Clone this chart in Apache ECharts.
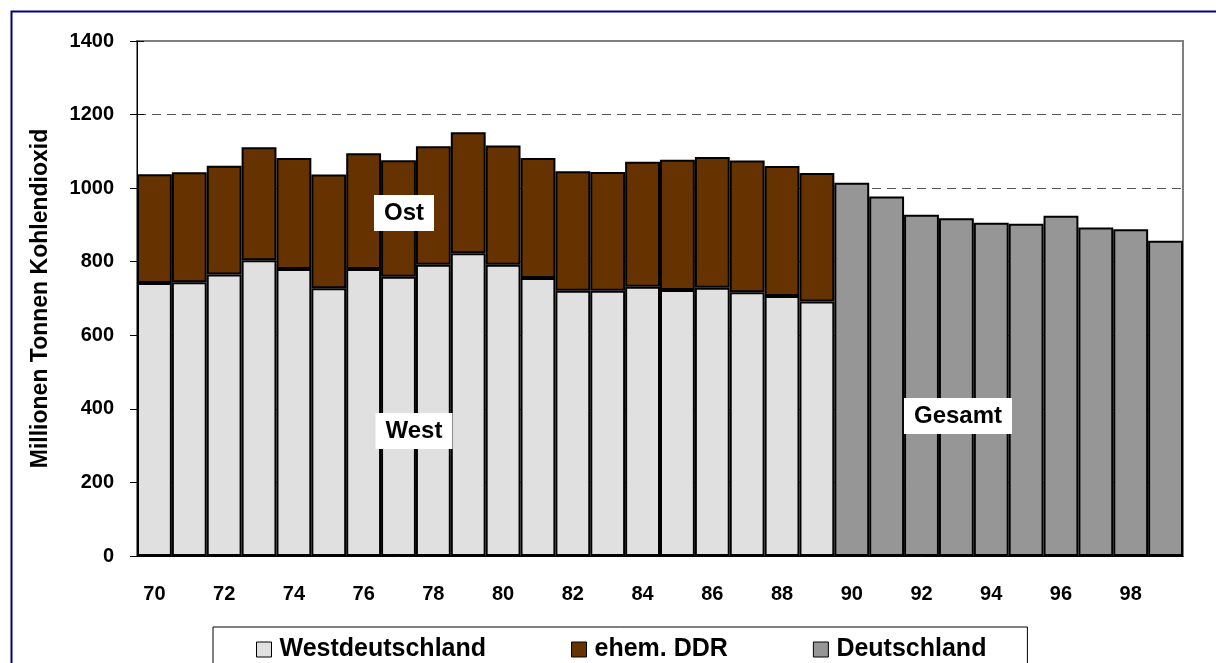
<!DOCTYPE html>
<html>
<head>
<meta charset="utf-8">
<script src="https://cdn.jsdelivr.net/npm/echarts@6/dist/echarts.min.js"></script>
<style>
  html, body { margin: 0; padding: 0; background: #fff; }
  #chart { width: 1216px; height: 663px; }
</style>
</head>
<body>
<div id="chart"></div>
<script>
// Jahre 1970 - 1999
const years = ['70', '71', '72', '73', '74', '75', '76', '77', '78', '79',
  '80', '81', '82', '83', '84', '85', '86', '87', '88', '89',
  '90', '91', '92', '93', '94', '95', '96', '97', '98', '99'];

// Westdeutschland 1970 - 1989
const westValues = [742, 744, 765, 804, 780, 728, 780, 759, 792, 823,
  792, 756, 721, 721, 732, 723, 729, 717, 707, 692];
// ehem. DDR 1970 - 1989
const ostValues = [296, 299, 296, 307, 302, 309, 315, 317, 322, 329,
  324, 326, 325, 323, 340, 354, 356, 358, 353, 349];
// Deutschland 1990 - 1999
const gesamtValues = [1015, 977, 928, 918, 906, 903, 925, 893, 888, 857];

const yTicks = [0, 200, 400, 600, 800, 1000, 1200, 1400];

const font = 'Arial, "Liberation Sans", sans-serif';

// Reihen auf die volle Jahresachse auffüllen
const pad = (n) => new Array(n).fill(null);
const westData = westValues.concat(pad(years.length - westValues.length));
const ostData = ostValues.concat(pad(years.length - ostValues.length));
const gesamtData = pad(years.length - gesamtValues.length).concat(gesamtValues);

const barBorder = {
  borderColor: '#000',
  borderWidth: 2,
};

// weißes Kästchen mit fetter Beschriftung
const boxLabel = (text, x, y) => ({
  type: 'text',
  x,
  y,
  z: 100,
  style: {
    text,
    font: 'bold 24px ' + font,
    fill: '#000',
    align: 'center',
    verticalAlign: 'middle',
    backgroundColor: '#fff',
    padding: [6, 10],
  },
});

const chart = echarts.init(document.getElementById('chart'));

chart.setOption({
  animation: false,
  textStyle: {
    fontFamily: font,
  },
  grid: {
    left: 137,
    right: 33,
    top: 41,
    bottom: 107,
    show: true,
    borderColor: '#808080',
    borderWidth: 2,
  },
  legend: {
    left: 213,
    top: 627,
    padding: [10, 41, 12, 43],
    itemGap: 85,
    itemWidth: 15,
    itemHeight: 15,
    icon: 'rect',
    borderColor: '#000',
    borderWidth: 1,
    backgroundColor: '#fff',
    itemStyle: {
      borderColor: '#000',
      borderWidth: 1,
    },
    textStyle: {
      fontFamily: font,
      fontSize: 25,
      fontWeight: 'bold',
      color: '#000',
      padding: [0, 0, 0, 3],
    },
    data: ['Westdeutschland', 'ehem. DDR', 'Deutschland'],
  },
  xAxis: {
    type: 'category',
    data: years,
    boundaryGap: true,
    axisLine: {
      lineStyle: { color: '#000', width: 1 },
    },
    axisTick: {
      interval: 1,
      length: 8,
      lineStyle: { color: '#000' },
    },
    axisLabel: {
      interval: 1,
      margin: 28,
      fontSize: 20,
      fontWeight: 'bold',
      color: '#000',
    },
  },
  yAxis: [{
    type: 'value',
    min: yTicks[0],
    max: yTicks[yTicks.length - 1],
    interval: 200,
    name: 'Millionen Tonnen Kohlendioxid',
    nameLocation: 'middle',
    nameGap: 85,
    nameTextStyle: {
      fontSize: 23,
      fontWeight: 'bold',
      color: '#000',
    },
    axisLine: {
      show: true,
      lineStyle: { color: '#000', width: 1 },
    },
    axisTick: {
      show: true,
      length: 7,
      lineStyle: { color: '#000' },
    },
    axisLabel: {
      margin: 23,
      fontSize: 20,
      fontWeight: 'bold',
      color: '#000',
      formatter: (v) => String(v),
    },
    splitLine: {
      showMinLine: false,
      showMaxLine: false,
      lineStyle: { color: '#555', type: [9, 6], width: 1 },
    },
  }, {
    // nur für die nach innen zeigenden Striche
    type: 'value',
    position: 'left',
    min: yTicks[0],
    max: yTicks[yTicks.length - 1],
    interval: 200,
    axisLine: { show: false },
    axisTick: {
      show: true,
      inside: true,
      length: 7,
      lineStyle: { color: '#000' },
    },
    axisLabel: { show: false },
    splitLine: { show: false },
  }],
  series: [{
    name: 'Westdeutschland',
    type: 'bar',
    stack: 'co2',
    barCategoryGap: '0%',
    data: westData,
    itemStyle: Object.assign({ color: '#E0E0E0' }, barBorder),
  }, {
    name: 'ehem. DDR',
    type: 'bar',
    stack: 'co2',
    data: ostData,
    itemStyle: Object.assign({ color: '#663300' }, barBorder),
  }, {
    name: 'Deutschland',
    type: 'bar',
    stack: 'co2',
    data: gesamtData,
    itemStyle: Object.assign({ color: '#969696' }, barBorder),
  }],
  graphic: [{
    // äußerer Rahmen
    type: 'rect',
    left: 9,
    top: 9,
    shape: { width: 1400, height: 900 },
    style: { fill: 'none', stroke: '#000080', lineWidth: 2 },
    silent: true,
  },
  boxLabel('Ost', 404, 213),
  boxLabel('West', 414, 431),
  boxLabel('Gesamt', 958, 416),
  ],
});
</script>
</body>
</html>
